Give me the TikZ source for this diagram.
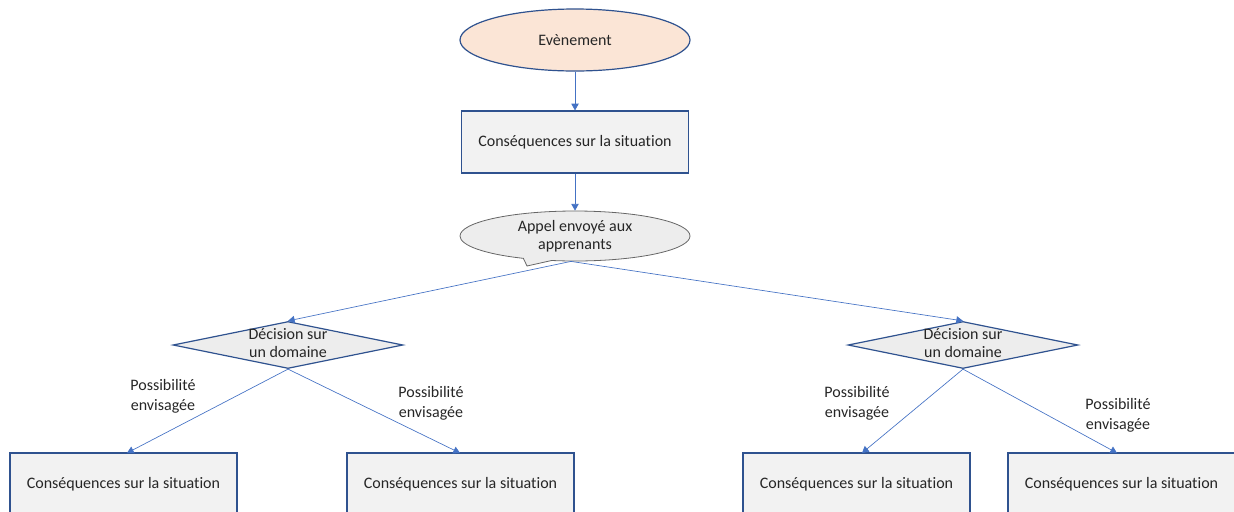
\documentclass[tikz,border=0pt]{standalone}
\usepackage{fontspec}
\setmainfont{Carlito}[Ligatures=NoCommon]
\usetikzlibrary{shapes.geometric,shapes.callouts,arrows.meta}
\definecolor{bord}{HTML}{2F528F}
\definecolor{conn}{HTML}{4472C4}
\definecolor{peach}{HTML}{FBE5D6}
\definecolor{boxfill}{HTML}{F2F2F2}
\definecolor{grfill}{HTML}{EDEDED}
\definecolor{txt}{HTML}{262626}
\begin{document}
\begin{tikzpicture}[x=0.75pt,y=-0.75pt,
  every node/.style={font=\fontsize{12pt}{13.5pt}\selectfont, text=txt, align=center},
  conbox/.style={draw=bord, line width=0.9pt, fill=boxfill, rectangle, minimum width=170.25pt, minimum height=46.5pt, inner sep=0pt},
  evt/.style={draw=bord, line width=0.9pt, fill=peach, ellipse, minimum width=172.5pt, minimum height=46.5pt, inner sep=0pt},
  decis/.style={draw=bord, line width=0.9pt, fill=grfill, diamond, minimum width=172.5pt, minimum height=35.25pt, inner sep=0pt},
  appel/.style={draw=gray!80!black, line width=0.6pt, fill=grfill, ellipse callout, minimum width=172.5pt, minimum height=37.5pt, inner sep=0pt},
  conline/.style={draw=conn, line width=0.5pt, -{Triangle[width=5.5pt,length=5pt]}},
  poss/.style={font=\fontsize{12pt}{15pt}\selectfont}
]
\useasboundingbox (0,0) rectangle (1234,511);
\clip (0,0) rectangle (1234,511);

\node[evt] (evt) at (575,40) {Evènement};
\node[conbox] (c0) at (575,142) {Conséquences sur la situation};
\node[appel, callout absolute pointer={(527,266)}] (call) at (575,236) {Appel envoyé aux\\apprenants};

\node[decis] (d1) at (288,345) {};
\node (d1t) at (288,343) {Décision sur\\un domaine};
\node[decis] (d2) at (963,345) {};
\node (d2t) at (963,343) {Décision sur\\un domaine};

\node[conbox] (b1) at (123.5,484) {Conséquences sur la situation};
\node[conbox] (b2) at (460.5,484) {Conséquences sur la situation};
\node[conbox] (b3) at (856.5,484) {Conséquences sur la situation};
\node[conbox] (b4) at (1121.5,484) {Conséquences sur la situation};

\coordinate (t1) at (127,453);
\coordinate (t2) at (460,453);
\coordinate (t3) at (862,453);
\coordinate (t4) at (1117,453);

\draw[conline] (evt.south) -- (c0.north);
\draw[conline] (c0.south) -- (call.north);
\draw[conline] ([xshift=-3pt]call.south) -- (d1.north);
\draw[conline] ([xshift=-3pt]call.south) -- (d2.north);
\draw[conline] (d1.south) -- (t1);
\draw[conline] (d1.south) -- (t2);
\draw[conline] (d2.south) -- (t3);
\draw[conline] (d2.south) -- (t4);

\node[poss] (p1) at (163,396) {Possibilité\\envisagée};
\node[poss] (p2) at (431,403) {Possibilité\\envisagée};
\node[poss] (p3) at (857,403) {Possibilité\\envisagée};
\node[poss] (p4) at (1118,415) {Possibilité\\envisagée};
\end{tikzpicture}
\end{document}
